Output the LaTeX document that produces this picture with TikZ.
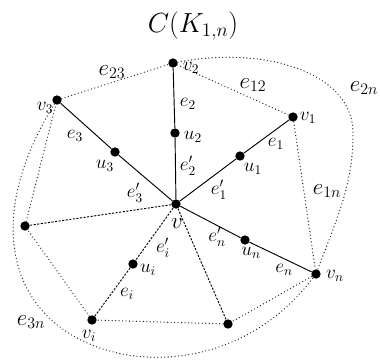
\documentclass[tikz,border=0pt]{standalone}
\begin{document}
\begin{tikzpicture}[x=0.75pt, y=-0.75pt,
    dot/.style={circle, fill=black, inner sep=0pt, minimum size=7pt},
    spoke/.style={line width=0.7pt},
    spokedash/.style={line width=0.7pt, dash pattern=on 1.6pt off 1.1pt},
    chord/.style={line width=1pt, black!85, line cap=round, dash pattern=on 0pt off 2.6pt},
    lab/.style={font=\Large, inner sep=1pt},
    biglab/.style={font=\LARGE, inner sep=1pt}]

    % =================================================================
    % 1. FRAME
    % =================================================================
    \useasboundingbox (0,0) rectangle (380,362);

    % =================================================================
    % 2. VERTICES OF THE STAR AND SUBDIVISION POINTS
    % =================================================================
    \node[dot] (v)  at (176,204) {};
    \node[dot] (v1) at (293,117) {};
    \node[dot] (v2) at (173,63)  {};
    \node[dot] (v3) at (57,100)  {};
    \node[dot] (vL) at (25,226)  {};
    \node[dot] (vi) at (92,320)  {};
    \node[dot] (vB) at (228,324) {};
    \node[dot] (vn) at (316,274) {};

    \node[dot] (u1) at (240,156) {};
    \node[dot] (u2) at (175,133) {};
    \node[dot] (u3) at (115,152) {};
    \node[dot] (ui) at (133,264) {};
    \node[dot] (un) at (245,240) {};

    % =================================================================
    % 3. SPOKES
    % =================================================================
    \draw[spoke] (v) -- (u1) -- (v1);
    \draw[spoke] (v) -- (u2) -- (v2);
    \draw[spoke] (v) -- (u3) -- (v3);
    \draw[spoke] (v) -- (un) -- (vn);
    \draw[spokedash] (v) -- (ui) -- (vi);
    \draw[spokedash] (v) -- (vL);
    \draw[spokedash] (v) -- (vB);

    % =================================================================
    % 4. DOTTED EDGES OF THE COMPLEMENT
    % =================================================================
    \draw[chord] (v3) -- (v2) -- (v1) -- (vn) -- (vB) -- (vi) -- (vL) -- (v3);
    \draw[chord] (v2) .. controls (270,45) and (355,75) .. (353,135)
                      .. controls (353,185) and (336,221) .. (vn);
    \draw[chord] (v3) .. controls (-15,215) and (5,315) .. (100,348)
                      .. controls (160,369) and (252,358) .. (vn);

    % =================================================================
    % 5. LABELS
    % =================================================================
    \node[font=\huge] (title) at (193,26) {$C(K_{1,n})$};

    \node[lab] (lv)  at (177,224) {\LARGE $v$};
    \node[lab] (lv1) at (308,118) {$v_1$};
    \node[lab] (lv2) at (191,68)  {$v_2$};
    \node[lab] (lv3) at (45,108)  {$v_3$};
    \node[lab] (lvi) at (89,336)  {$v_i$};
    \node[lab] (lvn) at (335,276) {$v_n$};

    \node[lab] (lu1) at (253,169) {$u_1$};
    \node[lab] (lu2) at (193,137) {$u_2$};
    \node[lab] (lu3) at (105,166) {$u_3$};
    \node[lab] (lui) at (148,270) {$u_i$};
    \node[lab] (lun) at (251,253) {$u_n$};

    \node[lab] (le1)  at (276,144) {$e_1$};
    \node[lab] (le1p) at (219,190) {$e'_1$};
    \node[lab] (le2)  at (188,104) {$e_2$};
    \node[lab] (le2p) at (188,166) {$e'_2$};
    \node[lab] (le3)  at (75,136)  {$e_3$};
    \node[lab] (le3p) at (135,193) {$e'_3$};
    \node[lab] (lei)  at (127,294) {$e_i$};
    \node[lab] (leip) at (163,248) {$e'_i$};
    \node[lab] (len)  at (284,270) {$e_n$};
    \node[lab] (lenp) at (217,237) {$e'_n$};

    \node[biglab] (le23) at (112,72)  {$e_{23}$};
    \node[biglab] (le12) at (253,85)  {$e_{12}$};
    \node[biglab] (le2n) at (364,88)  {$e_{2n}$};
    \node[biglab] (le1n) at (327,191) {$e_{1n}$};
    \node[biglab] (le3n) at (31,322)  {$e_{3n}$};

\end{tikzpicture}
\end{document}
